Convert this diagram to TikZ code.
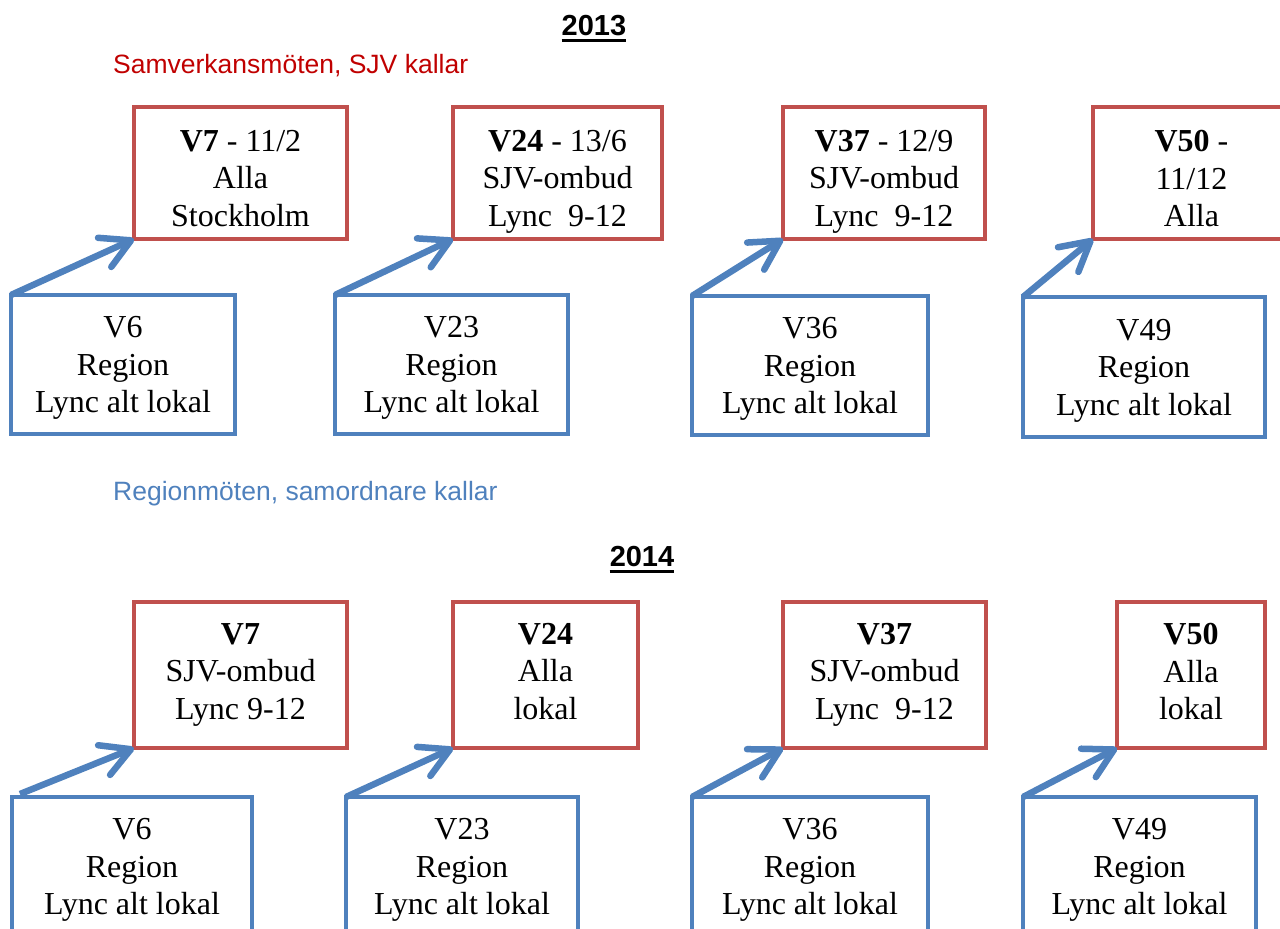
\documentclass[tikz,border=0pt]{standalone}
\usepackage{fontspec}
\setmainfont{Liberation Serif}
\setsansfont{Liberation Sans}
\usetikzlibrary{arrows.meta}
\definecolor{boxred}{HTML}{C0504D}
\definecolor{boxblue}{HTML}{4F81BD}
\definecolor{labred}{HTML}{C00000}
\definecolor{labblue}{HTML}{4F81BD}
\begin{document}
\begin{tikzpicture}[x=1pt,y=-1pt,
  box/.style={draw, rectangle, line width=3.5pt, inner sep=0pt, outer sep=0pt},
  redbox/.style={box, draw=boxred},
  bluebox/.style={box, draw=boxblue},
  boxtext/.style={align=center, inner sep=0pt, font=\fontsize{32}{37.5}\selectfont,
                  execute at begin node=\strut, execute at end node=\strut},
  link/.style={draw=boxblue, line width=6.5pt, -{Straight Barb[round,length=29pt,width=32pt]}},
  yeartitle/.style={font=\sffamily\bfseries\fontsize{29}{34}\selectfont, inner sep=0pt, anchor=base},
  uline/.style={line width=3pt},
  lab/.style={font=\sffamily\fontsize{26.5}{32}\selectfont, inner sep=0pt, anchor=base west}]
\path[use as bounding box] (0,0) rectangle (1280,929);
\clip (0,0) rectangle (1280,929);

% titles and labels
\node[yeartitle] (t13) at (594,35) {2013};
\draw[uline] ([yshift=-5pt]t13.base west) -- ([yshift=-5pt]t13.base east);
\node[yeartitle] (t14) at (642,566) {2014};
\draw[uline] ([yshift=-5pt]t14.base west) -- ([yshift=-5pt]t14.base east);
\node[lab, text=labred] (samv) at (113,73) {Samverkansmöten, SJV kallar};
\node[lab, text=labblue] (regm) at (113,500) {Regionmöten, samordnare kallar};

% 2013 red boxes
\node[redbox, minimum width=213pt, minimum height=132pt] (ra1) at (240.5,173) {};
\node[redbox, minimum width=209pt, minimum height=132pt] (ra2) at (557.5,173) {};
\node[redbox, minimum width=202pt, minimum height=132pt] (ra3) at (884,173) {};
\node[redbox, minimum width=197pt, minimum height=132pt] (ra4) at (1191.5,173) {};
\node[boxtext] (ra1t) at ([yshift=-11pt]ra1.center) {\textbf{V7} - 11/2\\Alla\\Stockholm};
\node[boxtext] (ra2t) at ([yshift=-11pt]ra2.center) {\textbf{V24} - 13/6\\SJV-ombud\\Lync~\ 9-12};
\node[boxtext] (ra3t) at ([yshift=-11pt]ra3.center) {\textbf{V37} - 12/9\\SJV-ombud\\Lync~\ 9-12};
\node[boxtext] (ra4t) at ([yshift=-11pt]ra4.center) {\textbf{V50} -\\11/12\\Alla};

% 2013 blue boxes
\node[bluebox, minimum width=224pt, minimum height=139pt] (ba1) at (123,364.5) {};
\node[bluebox, minimum width=233pt, minimum height=139pt] (ba2) at (451.5,364.5) {};
\node[bluebox, minimum width=236pt, minimum height=139pt] (ba3) at (810,365.5) {};
\node[bluebox, minimum width=242pt, minimum height=140pt] (ba4) at (1144,367) {};
\node[boxtext] (ba1t) at ([yshift=-6pt]ba1.center) {V6\\Region\\Lync alt lokal};
\node[boxtext] (ba2t) at ([yshift=-6pt]ba2.center) {V23\\Region\\Lync alt lokal};
\node[boxtext] (ba3t) at ([yshift=-6pt]ba3.center) {V36\\Region\\Lync alt lokal};
\node[boxtext] (ba4t) at ([yshift=-6pt]ba4.center) {V49\\Region\\Lync alt lokal};

% 2014 red boxes
\node[redbox, minimum width=213pt, minimum height=146pt] (rb1) at (240.5,675) {};
\node[redbox, minimum width=185pt, minimum height=146pt] (rb2) at (545.5,675) {};
\node[redbox, minimum width=203pt, minimum height=146pt] (rb3) at (884.5,675) {};
\node[redbox, minimum width=148pt, minimum height=146pt] (rb4) at (1191,675) {};
\node[boxtext] (rb1t) at ([yshift=-2pt]rb1.center) {\textbf{V7}\\SJV-ombud\\Lync 9-12};
\node[boxtext] (rb2t) at ([yshift=-2pt]rb2.center) {\textbf{V24}\\Alla\\lokal};
\node[boxtext] (rb3t) at ([yshift=-2pt]rb3.center) {\textbf{V37}\\SJV-ombud\\Lync~\ 9-12};
\node[boxtext] (rb4t) at ([yshift=-2pt]rb4.center) {\textbf{V50}\\Alla\\lokal};

% 2014 blue boxes (cut by the lower edge)
\node[bluebox, minimum width=240pt, minimum height=139pt] (bb1) at (132,866.5) {};
\node[bluebox, minimum width=232pt, minimum height=139pt] (bb2) at (462,866.5) {};
\node[bluebox, minimum width=236pt, minimum height=139pt] (bb3) at (810,866.5) {};
\node[bluebox, minimum width=233pt, minimum height=139pt] (bb4) at (1139.5,866.5) {};
\node[boxtext] (bb1t) at ([yshift=-6pt]bb1.center) {V6\\Region\\Lync alt lokal};
\node[boxtext] (bb2t) at ([yshift=-6pt]bb2.center) {V23\\Region\\Lync alt lokal};
\node[boxtext] (bb3t) at ([yshift=-6pt]bb3.center) {V36\\Region\\Lync alt lokal};
\node[boxtext] (bb4t) at ([yshift=-6pt]bb4.center) {V49\\Region\\Lync alt lokal};

% arrows
\draw[link] (ba1.north west) -- (ra1.south west);
\draw[link] (ba2.north west) -- (ra2.south west);
\draw[link] (ba3.north west) -- (ra3.south west);
\draw[link] (ba4.north west) -- (ra4.south west);
\draw[link] ([xshift=8pt,yshift=3pt]bb1.north west) -- (rb1.south west);
\draw[link] (bb2.north west) -- (rb2.south west);
\draw[link] (bb3.north west) -- (rb3.south west);
\draw[link] (bb4.north west) -- (rb4.south west);
\end{tikzpicture}
\end{document}
